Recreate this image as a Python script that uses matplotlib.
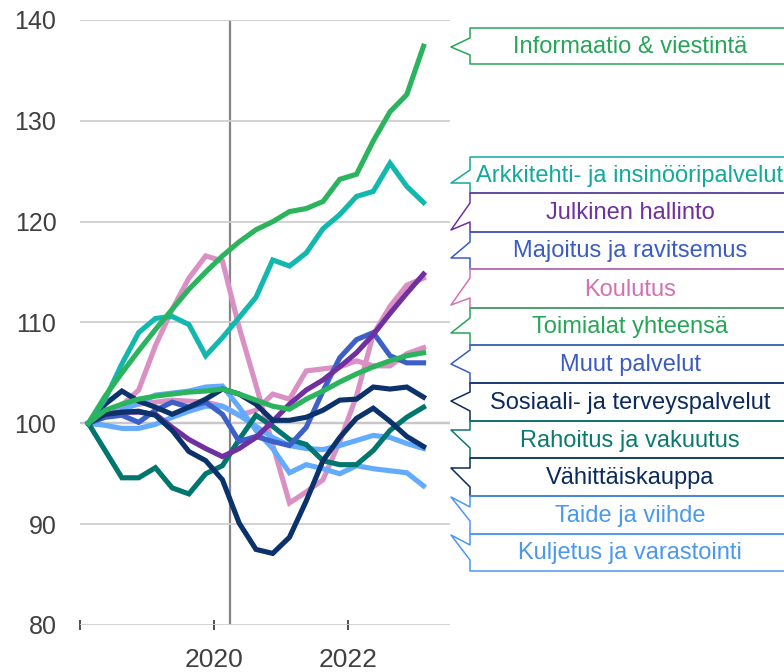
import matplotlib.pyplot as plt
from matplotlib.lines import Line2D

# quarterly index values, 2018Q1 = 100
quarters = [2018.125 + 0.25 * i for i in range(21)]

informaatio = [100, 102.7, 105.0, 107.2, 109.3, 111.3, 113.3, 115.0, 116.6, 118.0, 119.2,
               120.0, 121.0, 121.3, 122.0, 124.2, 124.7, 128.0, 130.9, 132.6, 137.4]
arkkitehti = [100, 102.4, 105.9, 109.0, 110.4, 110.6, 109.8, 106.7, 108.5, 110.5, 112.5,
              116.2, 115.6, 116.9, 119.3, 120.7, 122.5, 123.0, 125.8, 123.5, 121.9]
julkinen = [100, 100.9, 101.1, 101.1, 100.9, 99.6, 98.4, 97.5, 96.7, 97.5, 98.6,
            100.2, 101.9, 103.3, 104.3, 105.6, 107.0, 108.8, 110.9, 112.9, 114.8]
majoitus = [100, 100.6, 100.8, 100.1, 101.3, 102.1, 101.6, 102.1, 100.9, 98.2, 98.7,
            98.2, 97.8, 99.6, 103.2, 106.5, 108.3, 109.0, 106.7, 106.0, 106.0]
koulutus = [100, 101.0, 101.8, 103.3, 107.7, 111.3, 114.4, 116.6, 116.1, 109.5, 103.8,
            97.9, 92.1, 93.2, 94.4, 98.2, 102.7, 108.8, 111.6, 113.7, 114.4]
toimialat = [100, 101.3, 101.9, 102.4, 102.7, 102.9, 103.1, 103.2, 103.4, 102.9, 102.3,
             101.7, 101.4, 102.4, 103.2, 104.1, 104.9, 105.6, 106.2, 106.7, 107.0]
muut = [100, 100.9, 101.5, 101.9, 102.1, 102.3, 102.2, 102.1, 101.7, 100.8, 101.3,
        102.9, 102.4, 105.2, 105.4, 105.6, 106.2, 105.7, 105.7, 106.9, 107.5]
sosiaali = [100, 101.9, 103.2, 102.2, 101.6, 100.9, 101.6, 102.4, 103.4, 102.9, 101.9,
            100.3, 100.3, 100.6, 101.3, 102.3, 102.4, 103.6, 103.4, 103.6, 102.6]
rahoitus = [100, 97.3, 94.6, 94.6, 95.6, 93.6, 93.0, 95.0, 95.8, 98.4, 100.8,
            99.7, 98.4, 97.9, 96.3, 95.9, 95.9, 97.3, 99.3, 100.6, 101.6]
vahittais = [100, 100.9, 101.1, 101.2, 100.8, 99.3, 97.2, 96.3, 94.4, 90.1, 87.5,
             87.1, 88.7, 92.3, 96.3, 98.6, 100.5, 101.5, 100.2, 98.7, 97.7]
taide = [100, 99.8, 99.5, 99.5, 99.9, 100.6, 101.2, 101.7, 101.7, 100.8, 99.7,
         98.6, 97.8, 97.5, 97.4, 97.8, 98.3, 98.8, 98.6, 98.0, 97.5]
kuljetus = [100, 100.7, 101.3, 102.0, 102.8, 103.0, 103.2, 103.6, 103.7, 101.6, 99.3,
            97.5, 95.1, 95.9, 95.5, 95.0, 95.8, 95.5, 95.3, 95.1, 93.8]

labels = ['Informaatio & viestintä', 'Arkkitehti- ja insinööripalvelut', 'Julkinen hallinto',
          'Majoitus ja ravitsemus', 'Koulutus', 'Toimialat yhteensä', 'Muut palvelut',
          'Sosiaali- ja terveyspalvelut', 'Rahoitus ja vakuutus', 'Vähittäiskauppa',
          'Taide ja viihde', 'Kuljetus ja varastointi']
label_colors = ['#27a558', '#12aa9e', '#7030a0', '#3a5bc4', '#d272b4', '#27a558', '#3a5bc4',
                '#0b2a5e', '#0b7a6e', '#0b2a5e', '#4a98f0', '#4a98f0']

GREEN = '#2bb45d'
TEAL = '#12b8ad'
PURPLE = '#7030a0'
BLUE = '#3c5fc8'
PINK = '#da90c3'
NAVY = '#0b326b'
DTEAL = '#00766e'
LBLUE = '#62abff'

series = [
    (muut, PINK), (koulutus, PINK), (taide, LBLUE), (kuljetus, LBLUE),
    (rahoitus, DTEAL), (majoitus, BLUE), (julkinen, PURPLE), (sosiaali, NAVY),
    (vahittais, NAVY), (toimialat, GREEN), (arkkitehti, TEAL), (informaatio, GREEN),
]

W, H = 784, 672
fig = plt.figure(figsize=(W / 100, H / 100), dpi=100)
ax = fig.add_axes([80 / W, 1 - 625 / H, 370 / W, 605 / H])

for vals, col in series:
    ax.plot(quarters, vals, color=col, lw=3.7, solid_joinstyle='miter', zorder=3)

ax.set_xlim(2018, 2023.52)
ax.set_ylim(80, 140)
ax.set_yticks(range(80, 141, 10))
ax.grid(axis='y', color='#cfcfcf', lw=1.3, zorder=0)
ax.axhline(100, color='#858585', lw=1.6, zorder=1)
ax.axvline(2020.24, color='#858585', lw=1.6, zorder=1)
for s in ax.spines.values():
    s.set_visible(False)

ax.set_xticks([2018, 2020, 2022])
ax.set_xticklabels(['', '2020', '2022'])
ax.tick_params(axis='x', direction='inout', length=7, width=1.3, color='#404040',
               labelsize=19, labelcolor='#404040', pad=13)
ax.tick_params(axis='y', length=0, labelsize=18, labelcolor='#404040', pad=17)

# callout labels on the right (pixel positions, y from top)
box_top = [28, 157, 193, 232, 269, 308, 345, 383, 421, 458, 496, 534]
box_bot = [64, 193, 232, 269, 308, 345, 383, 421, 458, 496, 534, 571]
wedges = [(38, 47, 55), (170, 183, 183), (203, 230, 222), (242, 258, 258),
          (278, 305, 298), (318, 333, 333), (350, 364, 373), (392, 401, 411),
          (430, 430, 448), (468, 468, 487), (507, 497, 521), (545, 535, 560)]


def fx(x):
    return x / W


def fy(y):
    return 1 - y / H


for lab, col, top, bot, (a, t, b) in zip(labels, label_colors, box_top, box_bot, wedges):
    xs = [800, 470, 470, 451, 470, 470, 800]
    ys = [top, top, a, t, b, bot, bot]
    fig.add_artist(Line2D([fx(x) for x in xs], [fy(y) for y in ys], color=col,
                          lw=1.1, transform=fig.transFigure))
    fig.text(fx(630), fy((top + bot) / 2 + 1), lab, color=col, fontsize=17,
             family='Liberation Sans', ha='center', va='center')

for lab in ax.get_xticklabels() + ax.get_yticklabels():
    lab.set_family('Liberation Sans')

fig.savefig('out.png', dpi=100)
